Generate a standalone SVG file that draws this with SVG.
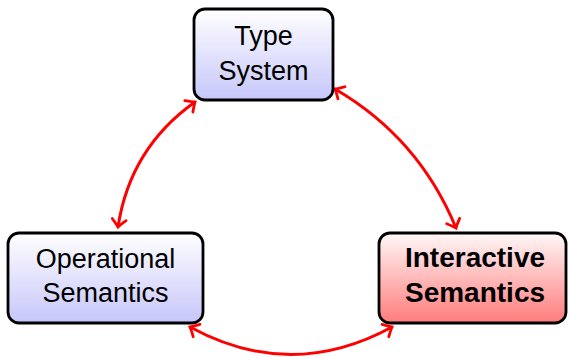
<svg xmlns="http://www.w3.org/2000/svg" width="569" height="357" viewBox="0 0 569 357">
  <style>
    .box { stroke: #000; stroke-width: 2.8; }
    .lbl { font-family: "Liberation Sans", Arial, sans-serif; font-size: 27px; fill: #000; text-anchor: middle; }
    .bold { font-weight: bold; font-size: 28px; }
    .link { fill: none; stroke: #ff0000; stroke-width: 3; marker-start: url(#tip); marker-end: url(#tip); }
  </style>
  <defs>
    <linearGradient id="blueFade" x1="0" y1="0" x2="0" y2="1">
      <stop offset="0" stop-color="#ffffff"/>
      <stop offset="1" stop-color="#c6c6fb"/>
    </linearGradient>
    <linearGradient id="redFade" x1="0" y1="0" x2="0" y2="1">
      <stop offset="0" stop-color="#fff8f8"/>
      <stop offset="1" stop-color="#ff7b7b"/>
    </linearGradient>
    <marker id="tip" markerUnits="userSpaceOnUse" markerWidth="20" markerHeight="20" viewBox="-10 -10 20 20" refX="0" refY="0" orient="auto-start-reverse" overflow="visible">
      <path d="M-7.5,-7 Q-2,-1.5 0,0 Q-2,1.5 -7.5,7" fill="none" stroke="#ff0000" stroke-width="2.8" stroke-linecap="round"/>
    </marker>
  </defs>

  <g id="connectors">
    <path class="link" d="M195,102 Q130,148 118,227"/>
    <path class="link" d="M335,89 Q419,138 456,228"/>
    <path class="link" d="M190,327 Q291,382 392,327"/>
  </g>

  <g id="type-system">
    <rect class="box" x="194" y="9" width="139" height="91" rx="11" fill="url(#blueFade)"/>
    <text class="lbl" x="263.5" y="45">Type</text>
    <text class="lbl" x="263.5" y="80">System</text>
  </g>

  <g id="operational-semantics">
    <rect class="box" x="8" y="233" width="195" height="90" rx="11" fill="url(#blueFade)"/>
    <text class="lbl" x="105.5" y="268">Operational</text>
    <text class="lbl" x="105.5" y="302">Semantics</text>
  </g>

  <g id="interactive-semantics">
    <rect class="box" x="379" y="233" width="187" height="90" rx="11" fill="url(#redFade)"/>
    <text class="lbl bold" x="475" y="267">Interactive</text>
    <text class="lbl bold" x="475" y="302">Semantics</text>
  </g>
</svg>
